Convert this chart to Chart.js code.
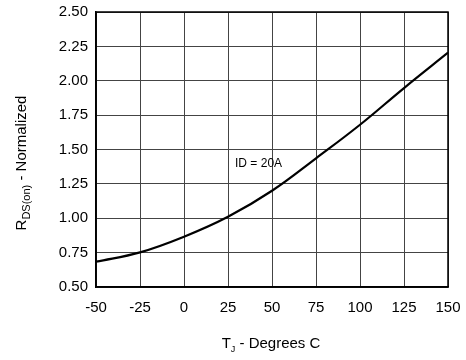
<!DOCTYPE html>
<html>
<head>
<meta charset="utf-8">
<script src="https://cdn.jsdelivr.net/npm/chart.js@4/dist/chart.umd.min.js"></script>
<style>
  html, body { margin: 0; padding: 0; background: #fff; }
  #wrap { width: 466px; height: 360px; }
</style>
</head>
<body>
<div id="wrap"><canvas id="rds_chart"></canvas></div>
<script>
// junction temperature (deg C) and normalized RDS(on)
const tempC = [-50, -25, 0, 25, 50, 75, 100, 125, 150];
const rdsNorm = [0.684, 0.752, 0.866, 1.011, 1.20, 1.436, 1.68, 1.947, 2.204];
const xTicks = [-50, -25, 0, 25, 50, 75, 100, 125, 150];
const yTicks = [0.5, 0.75, 1.0, 1.25, 1.5, 1.75, 2.0, 2.25, 2.5];
const curveLabel = { text: 'ID = 20A', x: 29, y: 1.40 };

const FONT = '"Liberation Sans", Arial, sans-serif';

// draws axis titles (with subscripts) and the curve label
const titlesPlugin = {
    id: 'titles',
    afterDraw(chart) {
        const ctx = chart.ctx;
        const xs = chart.scales.x, ys = chart.scales.y;
        ctx.save();
        ctx.fillStyle = '#000';

        // curve label
        ctx.font = '12px ' + FONT;
        ctx.textAlign = 'left';
        ctx.textBaseline = 'middle';
        ctx.fillText(curveLabel.text, xs.getPixelForValue(curveLabel.x), ys.getPixelForValue(curveLabel.y));
        ctx.textBaseline = 'alphabetic';

        // x title: T_J - Degrees C
        const big = '15px ' + FONT, small = '9px ' + FONT;
        const xParts = [['T', big, 0], ['J', small, 4], [' - Degrees C', big, 0]];
        drawParts(ctx, xParts, 271, 348);

        // y title rotated: R_DS(on) - Normalized
        ctx.translate(26, 163);
        ctx.rotate(-Math.PI / 2);
        const yParts = [['R', big, 0], ['DS(on)', '11px ' + FONT, 4], [' - Normalized', big, 0]];
        drawParts(ctx, yParts, 0, 0);
        ctx.restore();
    }
};

function drawParts(ctx, parts, cx, baseY) {
    let total = 0;
    parts.forEach(p => { ctx.font = p[1]; total += ctx.measureText(p[0]).width; });
    let x = cx - total / 2;
    ctx.textAlign = 'left';
    parts.forEach(p => {
        ctx.font = p[1];
        ctx.fillText(p[0], x, baseY + p[2]);
        x += ctx.measureText(p[0]).width;
    });
}

const ctxChart = document.getElementById('rds_chart').getContext('2d');

const rdsChart = new Chart(ctxChart, {
    type: 'line',
    data: {
        datasets: [{
            data: tempC.map((t, i) => ({ x: t, y: rdsNorm[i] })),
            borderColor: '#000',
            borderWidth: 2.2,
            pointRadius: 0,
            tension: 0.4,
            fill: false
        }]
    },
    options: {
        responsive: true,
        maintainAspectRatio: false,
        animation: false,
        layout: { padding: { top: 12, right: 18, left: 0, bottom: 0 } },
        plugins: { legend: { display: false }, tooltip: { enabled: false } },
        scales: {
            x: {
                type: 'linear',
                min: -50, max: 150,
                afterBuildTicks: (s) => { s.ticks = xTicks.map(v => ({ value: v })); },
                afterFit: (s) => { s.height = 73; s.paddingLeft = 0; s.paddingRight = 0; },
                grid: { color: '#444', lineWidth: 1, drawTicks: false },
                border: { color: '#000', width: 1.5 },
                ticks: { color: '#000', font: { family: FONT, size: 15 }, padding: 12, maxRotation: 0 }
            },
            y: {
                min: 0.5, max: 2.5,
                afterBuildTicks: (s) => { s.ticks = yTicks.map(v => ({ value: v })); },
                afterFit: (s) => { s.width = 96; s.paddingTop = 0; s.paddingBottom = 0; },
                grid: { color: '#444', lineWidth: 1, drawTicks: false },
                border: { color: '#000', width: 1.5 },
                ticks: {
                    color: '#000', font: { family: FONT, size: 15 }, padding: 8,
                    callback: (v) => Number(v).toFixed(2)
                }
            }
        }
    },
    plugins: [titlesPlugin, {
        id: 'frame',
        afterDatasetsDraw(chart) {
            const a = chart.chartArea, c = chart.ctx;
            c.save();
            c.strokeStyle = '#000';
            c.lineWidth = 1.5;
            c.strokeRect(a.left, a.top, a.right - a.left, a.bottom - a.top);
            c.restore();
        }
    }]
});
</script>
</body>
</html>
